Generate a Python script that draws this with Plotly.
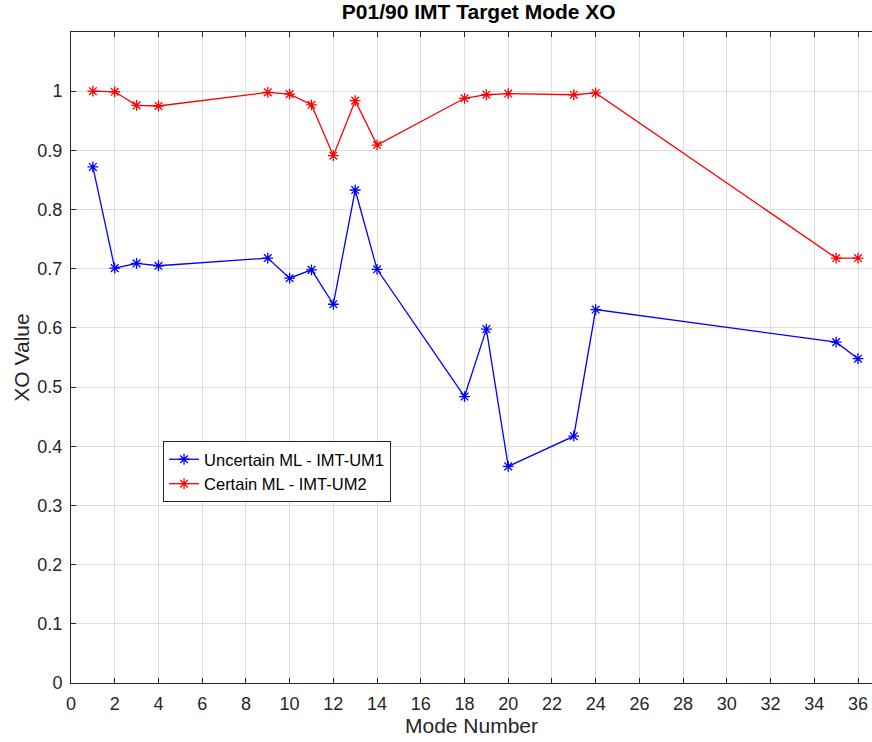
import plotly.graph_objects as go

# Mode numbers and XO values for the two IMT update methods
modes = [1, 2, 3, 4, 9, 10, 11, 12, 13, 14, 18, 19, 20, 23, 24, 35, 36]
xo_uncertain = [0.872, 0.701, 0.709, 0.705, 0.718, 0.684, 0.698, 0.640, 0.833,
                0.699, 0.484, 0.598, 0.366, 0.417, 0.631, 0.576, 0.548]
xo_certain = [1.000, 0.999, 0.976, 0.975, 0.998, 0.995, 0.977, 0.891, 0.984,
              0.909, 0.988, 0.994, 0.996, 0.994, 0.997, 0.718, 0.718]

x_ticks = list(range(0, 37, 2))
y_ticks = [i / 10 for i in range(0, 11)]
y_tick_text = ["0"] + [f"{v:g}" for v in y_ticks[1:]]

fig = go.Figure()
fig.add_trace(go.Scatter(
    x=modes, y=xo_uncertain, mode="lines+markers",
    name="Uncertain ML - IMT-UM1",
    line=dict(color="#0000ff", width=1.3),
    marker=dict(symbol="asterisk-open", size=9, color="#0000ff",
                line=dict(color="#0000ff", width=1.3)),
))
fig.add_trace(go.Scatter(
    x=modes, y=xo_certain, mode="lines+markers",
    name="Certain ML - IMT-UM2",
    line=dict(color="#ff0000", width=1.3),
    marker=dict(symbol="asterisk-open", size=9, color="#ff0000",
                line=dict(color="#ff0000", width=1.3)),
))

font_family = "Liberation Sans, Arial, Helvetica"
tick_font = dict(family=font_family, size=18, color="#262626")
label_font = dict(family=font_family, size=21, color="#262626")

fig.update_layout(
    width=872, height=742,
    margin=dict(l=71, r=0, t=32, b=59),
    paper_bgcolor="white", plot_bgcolor="white",
    title=dict(text="<b>P01/90 IMT Target Mode XO</b>", x=0.549, xanchor="center",
               y=0.984, yanchor="middle",
               font=dict(family=font_family, size=21, color="black")),
    showlegend=True,
    legend=dict(x=0.1149, y=0.3717, xanchor="left", yanchor="top",
                bgcolor="white", bordercolor="#262626", borderwidth=1,
                font=dict(family=font_family, size=16.5, color="black"),
                itemwidth=30, tracegroupgap=0),
    xaxis=dict(
        range=[0, 36.64], tickvals=x_ticks,
        showgrid=True, gridcolor="#dedede", gridwidth=1,
        showline=True, linecolor="#262626", linewidth=1, mirror="ticks",
        ticks="inside", ticklen=5, tickcolor="#262626",
        tickfont=tick_font, zeroline=False, ticklabelstandoff=4,
        title=dict(text="Mode Number", standoff=2, font=label_font),
    ),
    yaxis=dict(
        range=[0, 1.1], tickvals=y_ticks, ticktext=y_tick_text,
        showgrid=True, gridcolor="#dedede", gridwidth=1,
        showline=True, linecolor="#262626", linewidth=1,
        ticks="inside", ticklen=5, tickcolor="#262626",
        tickfont=tick_font, zeroline=False, ticklabelstandoff=4,
        title=dict(text="XO Value", standoff=2, font=label_font),
    ),
)

fig.write_html("out.html")
